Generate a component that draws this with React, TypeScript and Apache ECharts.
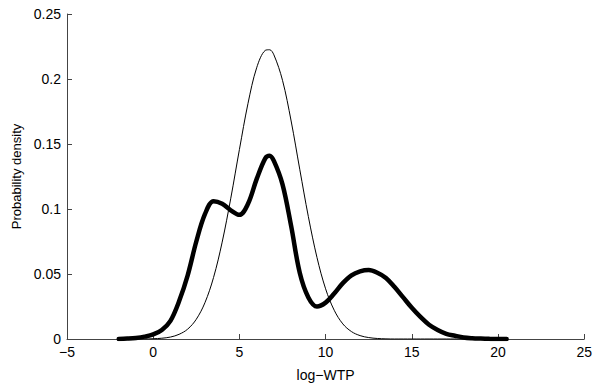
import React, { useEffect, useRef } from "react";
import * as echarts from "echarts";

const xValues = [
  -2, -1.5, -1, -0.5, 0, 0.5, 1, 1.5, 2, 2.5, 3, 3.5, 4, 4.5, 5, 5.5, 6, 6.5, 6.75, 7, 7.5, 8, 8.5, 9, 9.5,
  10, 10.5, 11, 11.5, 12, 12.5, 13, 13.5, 14, 14.5, 15, 15.5, 16, 16.5, 17, 17.5, 18, 18.5, 19, 19.5, 20, 20.5,
];

const thinDensity = [
  0, 0, 0, 0, 0.0002, 0.0006, 0.0015, 0.0036, 0.0076, 0.0152, 0.0279, 0.0473, 0.0745, 0.1083, 0.1457, 0.1813,
  0.2086, 0.222, 0.2225, 0.2186, 0.199, 0.1677, 0.1306, 0.0941, 0.0627, 0.0386, 0.0221, 0.0116, 0.0057, 0.0026,
  0.0011, 0.0004, 0.0001, 0, 0, 0, 0, 0, 0, 0, 0, 0, 0, 0, 0, 0, 0,
];

const thickDensity = [
  0, 0.0003, 0.0008, 0.0018, 0.0035, 0.007, 0.014, 0.029, 0.049, 0.075, 0.096, 0.106, 0.104, 0.099, 0.0955,
  0.104, 0.123, 0.139, 0.141, 0.137, 0.119, 0.087, 0.051, 0.032, 0.025, 0.028, 0.035, 0.043, 0.049, 0.052, 0.053,
  0.051, 0.047, 0.04, 0.032, 0.024, 0.017, 0.011, 0.007, 0.004, 0.0025, 0.0012, 0.0006, 0.0003, 0.0001, 0, 0,
];

const xTicks = { min: -5, max: 25, interval: 5 };
const yTicks = { min: 0, max: 0.25, interval: 0.05 };

const FONT = "Liberation Sans, Arial, Helvetica, sans-serif";
const AXIS_COLOR = "#444";

export default function App() {
  const ref = useRef<HTMLDivElement>(null);

  useEffect(() => {
    document.body.style.margin = "0";
    if (!ref.current) return;
    const chart = echarts.init(ref.current, undefined, { renderer: "svg" });
    const pairs = (ys: number[]) => xValues.map((x, i) => [x, ys[i]]);
    const fmt = (v: number) => String(v).replace("-", "\u2212");
    chart.setOption({
      animation: false,
      backgroundColor: "#fff",
      grid: { left: 67, right: 7, top: 14, bottom: 42, containLabel: false },
      xAxis: {
        type: "value",
        min: xTicks.min,
        max: xTicks.max,
        interval: xTicks.interval,
        name: "log\u2212WTP",
        nameLocation: "middle",
        nameGap: 29,
        nameTextStyle: { fontFamily: FONT, fontSize: 14, color: "#000" },
        axisLine: { show: true, onZero: false, lineStyle: { color: AXIS_COLOR, width: 1 } },
        axisTick: { show: true, inside: true, length: 5, lineStyle: { color: AXIS_COLOR } },
        axisLabel: { fontFamily: FONT, fontSize: 14, color: "#000", margin: 6, formatter: fmt },
        splitLine: { show: false },
      },
      yAxis: {
        type: "value",
        min: yTicks.min,
        max: yTicks.max,
        interval: yTicks.interval,
        name: "Probability density",
        nameLocation: "middle",
        nameGap: 44,
        nameTextStyle: { fontFamily: FONT, fontSize: 13, color: "#000" },
        axisLine: { show: true, onZero: false, lineStyle: { color: AXIS_COLOR, width: 1 } },
        axisTick: { show: true, inside: true, length: 5, lineStyle: { color: AXIS_COLOR } },
        axisLabel: { fontFamily: FONT, fontSize: 14, color: "#000", margin: 6, formatter: fmt },
        splitLine: { show: false },
      },
      series: [
        {
          type: "line",
          data: pairs(thinDensity),
          smooth: 0.35,
          showSymbol: false,
          lineStyle: { color: "#000", width: 1 },
        },
        {
          type: "line",
          data: pairs(thickDensity),
          smooth: 0.35,
          showSymbol: false,
          lineStyle: { color: "#000", width: 4.5, cap: "round", join: "round" },
        },
      ],
    });
    return () => chart.dispose();
  }, []);

  return (
    <div
      ref={ref}
      style={{ position: "fixed", left: 0, top: 0, width: 595, height: 387, background: "#fff" }}
    />
  );
}
